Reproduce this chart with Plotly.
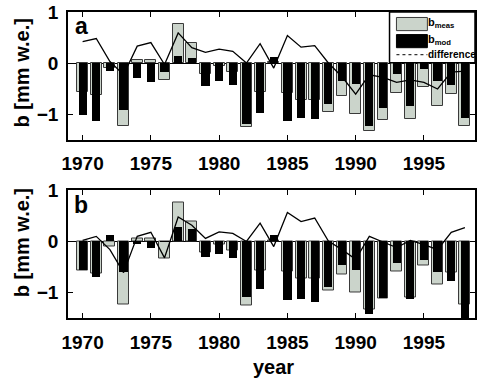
import plotly.graph_objects as go
from plotly.subplots import make_subplots

years = list(range(1970, 1999))

b_meas = [-0.56, -0.62, -0.09, -1.24, 0.05, 0.05, -0.33, 0.76, 0.40, -0.21,
          -0.05, -0.18, -1.25, -0.57, 0.02, -0.58, -0.73, -0.72, -0.96, -0.64,
          -1.00, -1.33, -1.11, -0.59, -1.10, -0.47, -0.84, -0.60, -1.24]

b_mod_a = [-1.01, -1.13, -0.15, -0.92, -0.30, -0.37, -0.18, 0.13, 0.10, -0.46,
           -0.36, -0.44, -1.19, -0.98, 0.12, -1.14, -1.08, -1.10, -0.80, -0.36,
           -0.42, -1.24, -0.88, -0.21, -0.84, -0.12, -0.35, -0.44, -1.08]
diff_a = [0.42, 0.48, 0.03, -0.23, 0.33, 0.40, -0.03, 0.59, 0.30, 0.21,
          0.27, 0.23, 0.00, 0.38, -0.10, 0.54, 0.31, 0.34, 0.00, -0.27,
          -0.61, -0.23, -0.28, -0.38, -0.33, -0.38, -0.51, -0.18, -0.16]

b_mod_b = [-0.57, -0.71, 0.12, -0.61, -0.05, -0.14, -0.01, 0.27, 0.24, -0.31,
           -0.25, -0.34, -1.10, -0.94, 0.12, -1.16, -1.13, -1.19, -0.90, -0.47,
           -0.57, -1.43, -1.12, -0.43, -1.13, -0.37, -0.61, -0.79, -1.55]
diff_b = [0.02, 0.10, -0.16, -0.61, 0.10, 0.18, -0.32, 0.48, 0.32, 0.06,
          0.19, 0.16, 0.00, 0.36, -0.10, 0.57, 0.39, 0.46, 0.01, -0.16,
          -0.35, 0.10, -0.01, -0.12, 0.02, -0.06, -0.16, 0.18, 0.27]

x_ticks = [1970, 1975, 1980, 1985, 1990, 1995]
y_ticks = [-1, 0, 1]
panel_labels = ["a", "b"]
legend_labels = ["b<sub>meas</sub>", "b<sub>mod</sub>", "difference"]
y_title = "b [mm w.e.]"
x_title = "year"

GRAY = "#cbd4cb"
FONT = "Liberation Sans"

fig = make_subplots(rows=2, cols=1, vertical_spacing=0.1666)

for row, (mod, diff) in enumerate([(b_mod_a, diff_a), (b_mod_b, diff_b)], start=1):
    fig.add_trace(go.Bar(x=years, y=b_meas, width=0.8, marker=dict(color=GRAY, line=dict(color="#3a3a3a", width=1)),
                         showlegend=False), row=row, col=1)
    fig.add_trace(go.Bar(x=years, y=mod, width=0.6, marker=dict(color="black", line=dict(color="black", width=0)),
                         showlegend=False), row=row, col=1)
    fig.add_trace(go.Scatter(x=years, y=diff, mode="lines", line=dict(color="black", width=1.3),
                             showlegend=False), row=row, col=1)

axis_common = dict(showline=True, mirror="allticks", linecolor="black", linewidth=1.5,
                   ticks="inside", ticklen=5, tickcolor="black", showgrid=False,
                   tickfont=dict(family=FONT, size=19, color="black", weight="bold"))

for r in (1, 2):
    fig.update_xaxes(range=[1968.93, 1998.74], tickvals=x_ticks, ticklabelstandoff=6,
                     zeroline=False, row=r, col=1, **axis_common)
    fig.update_yaxes(range=[-1.5, 1.0], tickvals=y_ticks, ticklabelstandoff=4,
                     zeroline=True, zerolinecolor="black", zerolinewidth=1.2,
                     row=r, col=1, **axis_common)

fig.update_layout(
    width=477, height=381, barmode="overlay", bargap=0,
    margin=dict(l=68, r=0, t=12, b=63),
    plot_bgcolor="white", paper_bgcolor="white",
    font=dict(family=FONT, color="black"),
)
fig.update_yaxes(domain=[0.5833, 1.0], row=1, col=1)
fig.update_yaxes(domain=[0.0, 0.4167], row=2, col=1)

bold = dict(family=FONT, size=20, color="black", weight="bold")
fig.add_annotation(text=y_title, xref="paper", yref="paper", x=-0.1125, y=0.80, textangle=-90,
                   showarrow=False, font=bold, xanchor="center", yanchor="middle")
fig.add_annotation(text=y_title, xref="paper", yref="paper", x=-0.1125, y=0.245, textangle=-90,
                   showarrow=False, font=bold, xanchor="center", yanchor="middle")
fig.add_annotation(text=x_title, xref="paper", yref="paper", x=0.504, y=-0.160,
                   showarrow=False, font=bold, xanchor="center", yanchor="middle")

for i, lab in enumerate(panel_labels):
    xr = "x domain" if i == 0 else "x2 domain"
    yr = "y domain" if i == 0 else "y2 domain"
    fig.add_annotation(text=lab, xref=xr, yref=yr, x=0.033, y=0.89, showarrow=False,
                       font=dict(family=FONT, size=23, color="black", weight="bold"),
                       xanchor="center", yanchor="middle")

fig.add_shape(type="rect", xref="x domain", yref="y domain", x0=0.79, x1=1.0, y0=0.602, y1=1.0,
              fillcolor="white", line=dict(color="black", width=1.5), layer="above")
fig.add_shape(type="rect", xref="x domain", yref="y domain", x0=0.807, x1=0.883, y0=0.854, y1=0.957,
              fillcolor=GRAY, line=dict(color="#3a3a3a", width=1), layer="above")
fig.add_shape(type="rect", xref="x domain", yref="y domain", x0=0.807, x1=0.883, y0=0.72, y1=0.823,
              fillcolor="black", line=dict(color="black", width=1), layer="above")
fig.add_shape(type="line", xref="x domain", yref="y domain", x0=0.807, x1=0.883, y0=0.665, y1=0.665,
              line=dict(color="black", width=1, dash="dot"), layer="above")
leg_sizes = [11, 11, 10]
for lab, yy, fs in zip(legend_labels, [0.915, 0.782, 0.665], leg_sizes):
    fig.add_annotation(text=lab, xref="x domain", yref="y domain", x=0.884, y=yy, showarrow=False,
                       font=dict(family=FONT, size=fs, color="black", weight="bold"),
                       xanchor="left", yanchor="middle", xshift=-2)

fig.write_html("out.html", config={"displayModeBar": False},
               post_script="document.body.style.margin='0';document.body.style.overflow='hidden';")
